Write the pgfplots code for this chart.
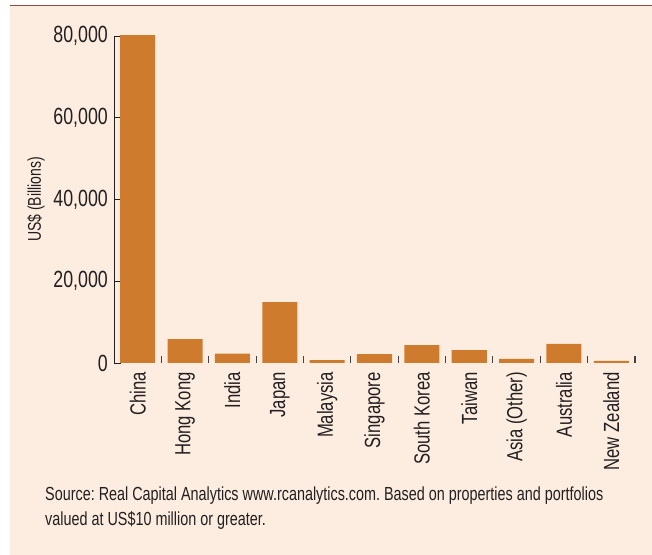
\documentclass[border=0pt]{standalone}
\usepackage{pgfplots}
\pgfplotsset{compat=1.18}
\usepackage{fontspec}
\setmainfont{Liberation Sans}[FakeStretch=0.76]
\definecolor{bg}{RGB}{253,237,224}
\definecolor{barc}{RGB}{206,123,45}
\definecolor{topline}{RGB}{140,75,60}
\definecolor{txt}{RGB}{35,31,32}
\frenchspacing
\begin{document}
\begin{tikzpicture}
\fill[white] (0,0) rectangle (652bp,555bp);
\fill[bg] (10bp,0) rectangle (652bp,549bp);
\draw[topline, line width=1.5bp] (10bp,549.5bp) -- (652bp,549.5bp);
\begin{axis}[
  scale only axis,
  width=521bp, height=327bp,
  at={(114bp,192bp)}, anchor=south west,
  xmin=-0.5, xmax=10.5, ymin=0, ymax=80000,
  clip=false,
  axis y line*=left, axis x line*=bottom,
  x axis line style={draw=none},
  y axis line style={txt, line width=0.8bp},
  major tick length=7bp,
  xtick={0.5,1.5,...,10.5},
  xticklabels={},
  x tick style={txt!85, line width=1.1bp},
  xtick align=inside,
  extra x ticks={0,...,10},
  extra x tick labels={China,Hong Kong,India,Japan,Malaysia,Singapore,South Korea,Taiwan,Asia (Other),Australia,New Zealand},
  extra x tick style={major tick length=0pt, xticklabel style={rotate=90, anchor=east, inner sep=0pt, xshift=-9bp, font=\fontsize{22}{26}\selectfont, text=txt}},
  ytick={0,20000,40000,60000,80000},
  scaled y ticks=false,
  /pgf/number format/1000 sep={,},
  /pgf/number format/assume math mode=true,
  yticklabel style={inner sep=0pt, xshift=-6bp, font=\fontsize{23.5}{27}\selectfont, text=txt},
  y tick style={txt, line width=0.8bp},
  ytick align=inside,
  ylabel={US\$ (Billions)},
  ylabel style={at={(axis description cs:-0.1497,0.5)}, anchor=center, font=\fontsize{18.5}{21}\selectfont, text=txt},
]
\addplot[ybar, bar width=0.74, fill=barc, draw=none] coordinates {
(0,80200) (1,5870) (2,2280) (3,14920) (4,730) (5,2200) (6,4400) (7,3180) (8,980) (9,4650) (10,490)
};
\end{axis}
\node[anchor=base west, inner sep=0pt, text=txt, font=\fontsize{19}{22}\selectfont] at (45bp,54bp) {Source: Real Capital Analytics www.rcanalytics.com. Based on properties and portfolios};
\node[anchor=base west, inner sep=0pt, text=txt, font=\fontsize{19}{22}\selectfont] at (45bp,30bp) {valued at US\$10 million or greater.};
\pgfresetboundingbox
\path (0,0) rectangle (652bp,555bp);
\end{tikzpicture}
\end{document}
